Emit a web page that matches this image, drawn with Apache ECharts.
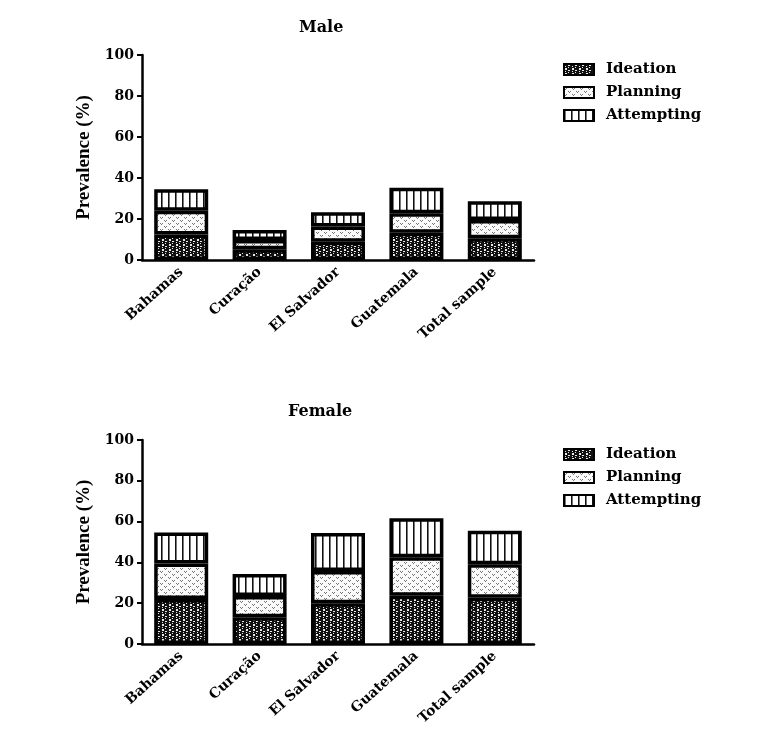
<!DOCTYPE html>
<html>
<head>
<meta charset="utf-8">
<script src="https://cdn.jsdelivr.net/npm/echarts@6/dist/echarts.min.js"></script>
<style>html,body{margin:0;padding:0;background:#fff;}#c{width:767px;height:734px;}</style>
</head>
<body>
<div id="c"></div>
<script>
const categories = ['Bahamas', 'Curação', 'El Salvador', 'Guatemala', 'Total sample'];
const seriesNames = ['Ideation', 'Planning', 'Attempting'];
const yTicks = [0, 20, 40, 60, 80, 100];
// stacked increments (%)
const maleIdeation = [12.5, 5.2, 8.9, 13.3, 10.6];
const malePlanning = [11.5, 4.5, 7.4, 9.5, 8.9];
const maleAttempting = [10.5, 4.9, 7.0, 12.5, 9.1];
const femaleIdeation = [22.0, 13.1, 20.0, 23.7, 22.7];
const femalePlanning = [17.5, 10.4, 15.8, 18.8, 16.4];
const femaleAttempting = [15.2, 10.8, 18.6, 19.1, 16.4];

function makeTile(w, h, bg, pts) {
  const c = document.createElement('canvas');
  c.width = w; c.height = h;
  const g = c.getContext('2d');
  g.fillStyle = bg; g.fillRect(0, 0, w, h);
  pts.forEach(p => { g.fillStyle = p[4]; g.fillRect(p[0], p[1], p[2] || 1, p[3] || 1); });
  return { image: c, repeat: 'repeat' };
}
const W = '#e8e8e8', G = '#777', K = '#111', M = '#777';
const patIdeation = makeTile(7, 5, '#111', [[1,0,2,1,W],[1,2,1,1,W],[4,1,2,1,W],[4,3,1,1,W],[1,4,2,1,W]]);
const patPlanning = makeTile(8, 6, '#fafafa', [[0,1,1,1,G],[1,2,1,1,G],[2,1,1,1,G],[4,4,1,1,G],[5,5,1,1,G],[6,4,1,1,G]]);
const patAttempting = makeTile(7, 1, '#fff', [[0,0,1,1,K],[1,0,1,1,M]]);
const pats = [patIdeation, patPlanning, patAttempting];

const FONT = 'DejaVu Serif';
const grids = [
  { left: 142, width: 392, top: 55, height: 205 },
  { left: 142, width: 392, top: 440, height: 204 }
];
function xAxis(i) {
  return {
    type: 'category', gridIndex: i, data: categories,
    axisLine: { lineStyle: { color: '#000', width: 2.5 } },
    axisTick: { alignWithLabel: true, length: 7, lineStyle: { color: '#000', width: 2 } },
    axisLabel: { rotate: 42, margin: 10, color: '#000', fontFamily: FONT, fontWeight: 'bold', fontSize: 14 }
  };
}
function yAxis(i) {
  return {
    type: 'value', gridIndex: i, min: yTicks[0], max: yTicks[yTicks.length - 1], interval: 20,
    name: 'Prevalence (%)', nameLocation: 'middle', nameGap: 44,
    nameTextStyle: { color: '#000', fontFamily: 'Liberation Serif', fontWeight: 'bold', fontSize: 19 },
    axisLine: { show: true, lineStyle: { color: '#000', width: 2.5 } },
    axisTick: { show: true, length: 5, lineStyle: { color: '#000', width: 2 } },
    axisLabel: { color: '#000', fontFamily: FONT, fontWeight: 'bold', fontSize: 14, margin: 8 },
    splitLine: { show: false }
  };
}
function bars(i, arrs) {
  return arrs.map((d, k) => ({
    name: seriesNames[k], type: 'bar', stack: 's' + i, xAxisIndex: i, yAxisIndex: i,
    data: d, barWidth: 54,
    itemStyle: { color: pats[k], borderColor: '#000', borderWidth: 3.5 },
    emphasis: { disabled: true }
  }));
}
function legend(top) {
  return {
    data: seriesNames.map(n => ({ name: n, icon: 'rect' })), left: 558, top: top, orient: 'vertical',
    itemWidth: 30, itemHeight: 11, itemGap: 8,
    textStyle: { color: '#000', fontFamily: FONT, fontWeight: 'bold', fontSize: 15, padding: [0, 0, 0, 7] }
  };
}
const chart = echarts.init(document.getElementById('c'), null, { renderer: 'canvas' });
chart.setOption({
  animation: false,
  backgroundColor: '#fff',
  title: [
    { text: 'Male', left: 294, top: 15, textStyle: { color: '#000', fontFamily: FONT, fontWeight: 'bold', fontSize: 16 } },
    { text: 'Female', left: 283, top: 399, textStyle: { color: '#000', fontFamily: FONT, fontWeight: 'bold', fontSize: 16 } }
  ],
  legend: [legend(57), legend(442)],
  grid: grids,
  xAxis: [xAxis(0), xAxis(1)],
  yAxis: [yAxis(0), yAxis(1)],
  series: bars(0, [maleIdeation, malePlanning, maleAttempting]).concat(bars(1, [femaleIdeation, femalePlanning, femaleAttempting]))
});
</script>
</body>
</html>
